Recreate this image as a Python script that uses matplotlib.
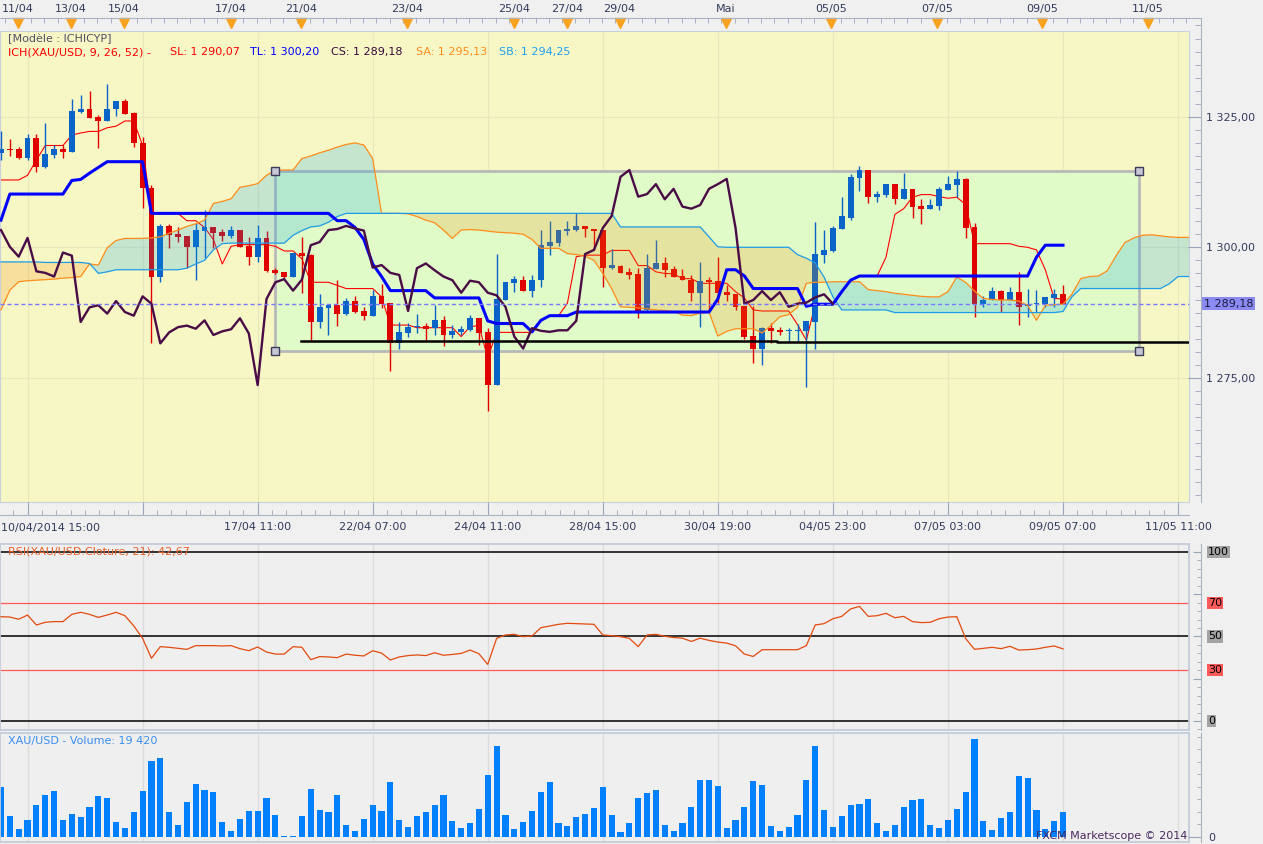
import numpy as np
import matplotlib
matplotlib.use("Agg")
import matplotlib.pyplot as plt
from matplotlib.patches import Rectangle
from matplotlib.ticker import FixedLocator, MultipleLocator, FuncFormatter, NullFormatter

# XAU/USD H4 candles (bar 0 = first visible candle)
opens = [1318.1, 1318.9, 1318.8, 1317.2, 1320.9, 1315.3, 1317.7, 1318.8, 1318.3, 1326.0,
         1326.5, 1324.9, 1324.1, 1326.5, 1328.0, 1325.7, 1320.0, 1311.3, 1294.4, 1304.1,
         1302.5, 1302.2, 1300.1, 1303.2, 1303.9, 1302.9, 1302.2, 1303.3, 1300.3, 1298.2,
         1301.8, 1295.7, 1295.2, 1294.4, 1299.0, 1298.5, 1285.7, 1288.3, 1288.9, 1287.3,
         1289.7, 1287.8, 1286.9, 1290.6, 1289.4, 1281.6, 1283.6, 1284.7, 1284.9, 1284.5,
         1286.0, 1283.2, 1283.8, 1284.1, 1286.4, 1283.7, 1273.6, 1289.9, 1293.1, 1293.8,
         1291.7, 1293.7, 1300.3, 1300.9, 1303.2, 1303.4, 1304.1, 1303.5, 1303.3, 1296.1,
         1296.5, 1295.2, 1294.9, 1288.0, 1295.8, 1296.9, 1295.8, 1294.5, 1293.8, 1291.3,
         1293.7, 1293.5, 1291.4, 1291.0, 1288.7, 1283.0, 1280.6, 1284.5, 1284.1, 1284.0,
         1283.9, 1284.0, 1285.7, 1298.5, 1299.3, 1303.5, 1305.7, 1313.3, 1314.8, 1309.7,
         1310.0, 1312.1, 1309.2, 1311.2, 1307.9, 1307.3, 1307.9, 1311.0, 1311.9, 1313.1,
         1303.9, 1289.2, 1289.9, 1291.6, 1289.9, 1291.4, 1288.7, 1289.2, 1289.2, 1290.2,
         1291.0]
highs = [1322.2, 1320.7, 1319.3, 1321.7, 1321.7, 1323.9, 1319.6, 1319.6, 1328.5, 1329.2,
         1329.9, 1325.3, 1331.3, 1328.0, 1328.4, 1325.9, 1321.2, 1311.9, 1304.5, 1304.5,
         1303.9, 1302.2, 1304.6, 1307.1, 1303.9, 1303.6, 1304.1, 1303.3, 1302.0, 1304.3,
         1303.1, 1296.1, 1295.2, 1299.0, 1302.0, 1298.8, 1291.0, 1288.9, 1293.8, 1290.2,
         1290.6, 1288.6, 1291.9, 1292.9, 1289.4, 1285.6, 1285.5, 1287.2, 1285.5, 1288.9,
         1286.8, 1285.2, 1284.9, 1287.1, 1286.4, 1284.5, 1298.7, 1293.3, 1294.5, 1294.5,
         1294.7, 1303.3, 1305.0, 1303.3, 1305.0, 1306.5, 1304.1, 1303.5, 1303.3, 1299.6,
         1296.7, 1296.0, 1296.0, 1298.7, 1301.4, 1298.1, 1296.4, 1295.9, 1294.7, 1297.2,
         1294.4, 1298.1, 1292.8, 1291.0, 1288.7, 1288.7, 1284.8, 1285.5, 1284.8, 1284.5,
         1285.3, 1285.9, 1304.8, 1303.3, 1304.1, 1309.7, 1314.0, 1315.6, 1314.9, 1310.8,
         1312.2, 1312.1, 1314.3, 1311.2, 1309.2, 1309.2, 1311.5, 1313.7, 1314.7, 1313.2,
         1304.6, 1290.6, 1292.4, 1291.9, 1292.4, 1295.2, 1292.1, 1291.9, 1290.4, 1292.1,
         1292.8]
lows = [1316.7, 1317.5, 1316.9, 1316.7, 1314.5, 1315.1, 1317.2, 1317.2, 1318.3, 1325.7,
        1324.8, 1319.1, 1324.1, 1325.2, 1325.6, 1319.3, 1307.6, 1281.7, 1293.4, 1299.9,
        1301.1, 1296.0, 1293.8, 1297.9, 1299.8, 1301.2, 1301.8, 1300.0, 1296.6, 1297.2,
        1295.2, 1294.9, 1294.2, 1294.4, 1291.2, 1282.2, 1284.5, 1283.2, 1284.9, 1287.1,
        1287.5, 1286.0, 1286.9, 1288.3, 1276.3, 1280.6, 1282.9, 1283.6, 1282.2, 1283.2,
        1281.1, 1282.7, 1283.2, 1284.0, 1281.3, 1268.7, 1273.6, 1289.9, 1291.4, 1291.7,
        1290.5, 1292.3, 1298.5, 1300.2, 1302.3, 1303.2, 1301.9, 1299.5, 1292.3, 1295.8,
        1295.1, 1293.9, 1286.5, 1287.8, 1295.8, 1294.4, 1294.4, 1293.7, 1289.8, 1284.8,
        1287.6, 1289.4, 1289.8, 1288.0, 1282.5, 1277.9, 1277.5, 1281.6, 1283.2, 1281.9,
        1281.9, 1273.3, 1280.6, 1296.9, 1299.1, 1303.5, 1305.3, 1310.8, 1308.5, 1308.7,
        1309.6, 1308.3, 1309.2, 1305.7, 1304.5, 1307.3, 1307.1, 1311.0, 1309.6, 1301.7,
        1286.7, 1288.6, 1289.9, 1287.6, 1289.9, 1285.2, 1286.6, 1287.6, 1288.6, 1288.6,
        1289.2]
closes = [1318.9, 1318.7, 1317.2, 1320.9, 1315.3, 1317.9, 1318.8, 1318.3, 1326.1, 1326.5,
          1324.8, 1324.1, 1326.5, 1328.0, 1325.6, 1319.9, 1311.3, 1294.4, 1304.1, 1302.3,
          1302.0, 1300.1, 1303.3, 1303.9, 1302.8, 1302.2, 1303.3, 1300.1, 1298.2, 1301.8,
          1295.4, 1295.1, 1294.4, 1299.0, 1298.4, 1285.7, 1288.5, 1288.9, 1287.3, 1289.7,
          1287.6, 1286.9, 1290.6, 1289.2, 1281.6, 1283.7, 1284.7, 1285.0, 1284.4, 1286.0,
          1283.2, 1283.9, 1284.3, 1286.4, 1283.5, 1273.6, 1290.1, 1293.3, 1293.9, 1291.7,
          1293.8, 1300.4, 1301.0, 1303.3, 1303.5, 1304.1, 1303.6, 1303.2, 1296.1, 1296.6,
          1295.1, 1294.7, 1287.8, 1296.0, 1296.9, 1295.6, 1294.4, 1293.7, 1291.3, 1293.6,
          1293.3, 1291.3, 1290.8, 1288.6, 1282.9, 1280.6, 1284.5, 1284.0, 1283.8, 1284.1,
          1284.1, 1285.9, 1298.7, 1299.5, 1303.7, 1306.0, 1313.5, 1314.8, 1309.7, 1310.2,
          1312.1, 1309.2, 1311.2, 1307.8, 1307.4, 1308.1, 1311.2, 1312.1, 1313.1, 1303.7,
          1289.2, 1289.9, 1291.6, 1289.9, 1291.4, 1288.6, 1289.2, 1289.4, 1290.4, 1291.0,
          1289.18]
volumes = [39040, 16240, 6030, 13100, 24890, 32750, 35890, 13100, 17820, 15460,
           23320, 31960, 30390, 11530, 6810, 19390, 35890, 59470, 61830, 19390,
           9170, 27250, 41400, 36680, 35110, 11530, 4450, 13890, 20170, 20170,
           30390, 17030, 520, 520, 16240, 37470, 20960, 19390, 32750, 9170,
           4450, 13890, 24890, 20170, 42970, 13100, 7600, 16240, 19390, 24890,
           32750, 12310, 6810, 10740, 21750, 48470, 71260, 17030, 6030, 11530,
           20170, 35110, 42970, 10740, 8380, 15460, 17820, 22530, 39040, 17030,
           3930, 10740, 30390, 34320, 36680, 9170, 4450, 10740, 23320, 44540,
           44540, 39820, 6810, 13100, 23320, 43750, 40610, 8380, 4450, 7600,
           17030, 44540, 71260, 20960, 7600, 16240, 24890, 25680, 29610, 10740,
           4450, 9170, 23320, 28820, 29610, 9170, 6810, 13100, 21750, 35110,
           76770, 12310, 5240, 14670, 19390, 47680, 46110, 20960, 6030, 12310,
           19420]
rsi = [61.7, 61.5, 60.2, 62.7, 56.8, 58.4, 58.8, 58.8, 63.1, 64.3,
       63.1, 61.3, 62.7, 64.3, 62.3, 56.3, 48.9, 37.1, 44.0, 43.6,
       43.0, 42.4, 44.6, 44.6, 44.6, 44.4, 44.6, 42.8, 41.6, 43.8,
       40.8, 39.6, 39.6, 44.0, 43.6, 36.3, 38.1, 37.9, 37.5, 39.6,
       38.9, 38.5, 41.6, 40.2, 36.1, 37.9, 38.7, 39.1, 38.7, 40.4,
       38.9, 39.4, 40.0, 42.0, 39.8, 33.5, 48.9, 50.9, 51.3, 49.9,
       50.3, 55.2, 56.2, 57.2, 57.8, 57.6, 57.4, 57.2, 50.9, 50.5,
       49.9, 48.9, 44.0, 50.9, 51.3, 50.1, 49.4, 49.0, 47.1, 49.0,
       47.7, 46.7, 46.1, 44.5, 39.6, 38.2, 42.2, 42.2, 42.2, 42.2,
       42.2, 44.6, 56.8, 57.6, 60.5, 61.9, 66.3, 67.8, 61.9, 62.3,
       63.7, 61.1, 61.9, 58.8, 58.2, 58.4, 60.5, 61.5, 61.7, 48.8,
       42.4, 43.0, 43.6, 42.8, 44.2, 42.0, 42.2, 42.6, 43.6, 44.4,
       42.67]

# ichimoku lines as drawn (tenkan / kijun per candle)
tenkan = [1312.9, 1312.9, 1312.9, 1313.8, 1316.7, 1319.5, 1319.5, 1319.5, 1321.5, 1321.9,
          1322.2, 1322.2, 1322.9, 1323.2, 1324.2, 1324.2, 1319.5, 1306.5, 1306.5, 1306.5,
          1306.5, 1305.1, 1305.1, 1303.8, 1301.5, 1296.8, 1300.2, 1300.5, 1300.5, 1300.5,
          1300.5, 1300.2, 1299.3, 1299.3, 1297.8, 1293.3, 1293.3, 1293.3, 1292.7, 1292.1,
          1292.1, 1292.1, 1292.1, 1290.5, 1285.1, 1285.1, 1285.1, 1284.6, 1284.6, 1284.6,
          1284.6, 1284.6, 1282.9, 1284.8, 1285.0, 1278.8, 1283.7, 1283.7, 1283.7, 1283.7,
          1283.7, 1286.0, 1286.9, 1286.9, 1289.3, 1298.2, 1298.5, 1298.5, 1298.5, 1299.4,
          1299.4, 1299.4, 1296.5, 1296.5, 1295.3, 1295.0, 1294.9, 1294.0, 1294.0, 1293.1,
          1293.1, 1293.1, 1293.1, 1291.5, 1290.3, 1288.0, 1287.8, 1287.8, 1287.8, 1287.8,
          1285.2, 1282.2, 1289.1, 1289.1, 1289.1, 1291.5, 1293.7, 1294.5, 1294.5, 1294.5,
          1298.1, 1306.3, 1307.4, 1309.6, 1310.1, 1310.1, 1309.7, 1309.4, 1309.6, 1308.2,
          1300.7, 1300.7, 1300.7, 1300.7, 1300.7, 1300.2, 1300.0, 1299.5, 1295.7, 1290.2,
          1290.1]
kijun = [1305.2, 1310.2, 1310.2, 1310.2, 1310.2, 1310.2, 1310.2, 1310.2, 1312.8, 1313.0,
         1314.2, 1315.3, 1316.4, 1316.4, 1316.4, 1316.4, 1316.4, 1306.5, 1306.5, 1306.5,
         1306.5, 1306.5, 1306.5, 1306.5, 1306.5, 1306.5, 1306.5, 1306.5, 1306.5, 1306.5,
         1306.5, 1306.5, 1306.5, 1306.5, 1306.5, 1306.5, 1306.5, 1306.5, 1305.1, 1305.1,
         1303.8, 1301.5, 1296.8, 1294.4, 1291.7, 1291.7, 1291.7, 1291.7, 1291.7, 1290.3,
         1290.3, 1290.3, 1290.3, 1290.3, 1290.3, 1285.9, 1285.4, 1285.4, 1285.4, 1285.4,
         1283.8, 1286.0, 1286.9, 1286.9, 1286.9, 1287.6, 1287.6, 1287.6, 1287.6, 1287.6,
         1287.6, 1287.6, 1287.6, 1287.6, 1287.6, 1287.6, 1287.6, 1287.6, 1287.6, 1287.6,
         1287.6, 1290.1, 1295.7, 1295.7, 1294.5, 1292.1, 1292.1, 1292.1, 1292.1, 1292.1,
         1292.1, 1288.7, 1289.1, 1289.1, 1289.1, 1291.5, 1293.7, 1294.5, 1294.5, 1294.5,
         1294.5, 1294.5, 1294.5, 1294.5, 1294.5, 1294.5, 1294.5, 1294.5, 1294.5, 1294.5,
         1294.5, 1294.5, 1294.5, 1294.5, 1294.5, 1294.5, 1294.5, 1298.1, 1300.4, 1300.4,
         1300.4]
# senkou spans run 26 bars past the last candle
senkou_a = [1288.0, 1291.8, 1293.4, 1293.6, 1293.7, 1293.8, 1293.9, 1294.1, 1294.2, 1294.4,
            1296.8, 1296.6, 1299.9, 1301.3, 1301.7, 1301.7, 1301.7, 1301.8, 1302.0, 1302.7,
            1303.3, 1304.0, 1304.5, 1305.2, 1308.4, 1308.8, 1309.3, 1311.5, 1311.8, 1312.2,
            1313.8, 1314.7, 1314.8, 1314.8, 1317.0, 1317.5, 1318.1, 1318.6, 1319.2, 1319.7,
            1320.0, 1319.6, 1317.0, 1306.5, 1306.5, 1306.5, 1306.4, 1305.9, 1305.2, 1304.7,
            1303.3, 1301.7, 1303.3, 1303.4, 1303.3, 1303.1, 1302.9, 1302.8, 1302.7, 1302.5,
            1301.5, 1299.8, 1299.8, 1299.8, 1298.8, 1298.6, 1298.3, 1297.5, 1295.0, 1292.1,
            1288.6, 1288.5, 1288.4, 1288.2, 1288.0, 1287.9, 1287.7, 1287.0, 1286.9, 1287.4,
            1287.6, 1283.0, 1283.9, 1284.4, 1284.4, 1284.4, 1283.6, 1285.0, 1286.7, 1287.1,
            1288.5, 1293.1, 1293.3, 1293.3, 1293.4, 1293.4, 1293.4, 1293.4, 1291.9, 1291.7,
            1291.5, 1291.2, 1291.0, 1290.8, 1290.6, 1290.5, 1290.5, 1291.5, 1294.3, 1293.3,
            1291.6, 1290.2, 1290.0, 1289.9, 1289.9, 1289.7, 1288.9, 1286.0, 1288.9, 1289.0,
            1289.1, 1291.0, 1294.0, 1294.4, 1294.5, 1295.5, 1298.4, 1300.9, 1301.8, 1302.3,
            1302.4, 1302.2, 1302.0, 1301.9, 1301.9, 1301.9]
senkou_b = [1297.2, 1297.2, 1297.2, 1297.2, 1297.2, 1297.1, 1297.1, 1297.1, 1297.1, 1297.1,
            1296.9, 1295.0, 1295.3, 1295.7, 1295.7, 1295.7, 1295.7, 1295.7, 1295.7, 1295.7,
            1295.7, 1296.0, 1296.8, 1297.5, 1299.5, 1300.7, 1300.8, 1300.8, 1300.8, 1300.8,
            1300.8, 1300.8, 1300.8, 1302.3, 1303.2, 1303.9, 1304.1, 1304.8, 1305.9, 1306.5,
            1306.5, 1306.5, 1306.5, 1306.5, 1306.5, 1306.5, 1306.5, 1306.5, 1306.5, 1306.5,
            1306.5, 1306.5, 1306.5, 1306.5, 1306.5, 1306.5, 1306.5, 1306.5, 1306.5, 1306.5,
            1306.5, 1306.5, 1306.5, 1306.5, 1306.5, 1306.5, 1306.5, 1306.5, 1306.5, 1306.5,
            1303.9, 1303.9, 1303.9, 1303.9, 1303.9, 1303.9, 1303.9, 1303.9, 1303.9, 1303.9,
            1302.0, 1300.1, 1300.0, 1300.0, 1300.0, 1300.0, 1300.0, 1300.0, 1300.0, 1300.0,
            1298.6, 1297.9, 1297.0, 1294.3, 1290.5, 1288.0, 1288.0, 1288.0, 1288.0, 1288.0,
            1288.0, 1287.5, 1287.5, 1287.5, 1287.5, 1287.5, 1287.5, 1287.5, 1287.5, 1287.5,
            1287.5, 1287.5, 1287.5, 1287.5, 1287.5, 1287.5, 1287.5, 1287.5, 1287.5, 1287.5,
            1287.7, 1290.5, 1292.1, 1292.1, 1292.1, 1292.1, 1292.1, 1292.1, 1292.1, 1292.1,
            1292.1, 1292.1, 1293.0, 1294.4, 1294.4, 1294.4]

# user drawings on the chart (rectangle + support line)
box_bars = [30.96, 128.6]
box_prices = [1280.2, 1314.7]
support_bars = [33.9, 87.7, 87.7, 134.3]
support_prices = [1282.05, 1282.05, 1281.8, 1281.8]

top_tick_bars = [1.9, 7.9, 13.9, 26.0, 33.9, 45.9, 58.0, 64.0, 69.9, 81.9, 93.8, 105.8, 117.6, 129.6]
top_tick_labels = ["11/04", "13/04", "15/04", "17/04", "21/04", "23/04", "25/04", "27/04",
                   "29/04", "Mai", "05/05", "07/05", "09/05", "11/05"]
time_tick_bars = [3, 16, 29, 42, 55, 68, 81, 94, 107, 120, 133]
time_tick_labels = ["", "", "17/04 11:00", "22/04 07:00", "24/04 11:00", "28/04 15:00",
                    "30/04 19:00", "04/05 23:00", "07/05 03:00", "09/05 07:00", "11/05 11:00"]
rsi_levels = [100, 70, 50, 30, 0]

W, H = 1263, 844
BAR_PX = 8.85
PX_PER_USD = 5.22
Y_1300 = 247.3
AXIS_TXT = "#333b5c"
TICK_COL = "#9aa6ba"


def fx(px):
    return px / W


def fy(py):
    return 1 - py / H


def price_at(py):
    return 1300 - (py - Y_1300) / PX_PER_USD


def bar_at(px):
    return (px - 1) / BAR_PX


def fmt_price(v, pos=None):
    return f"{v:,.2f}".replace(",", " ").replace(".", ",")


plt.rcParams["font.family"] = ["DejaVu Sans"]
plt.rcParams["font.size"] = 8

fig = plt.figure(figsize=(W / 100, H / 100), dpi=100, facecolor="#f0f0f0")
xlim = (bar_at(0), bar_at(1189))
bars = np.arange(len(closes))
o = np.array(opens)
c = np.array(closes)
up = c >= o
cols = np.where(up, "#0a64c8", "#e00000")

# ---------------- price panel ----------------
ax = fig.add_axes([0, fy(502), fx(1189), (502 - 31) / H])
ax.set_facecolor("#f7f7c6")
ax.set_xlim(*xlim)
ax.set_ylim(price_at(502), price_at(31))
ax.set_xticks([])
ax.set_yticks([])
for sp in ax.spines.values():
    sp.set_color("#c8d0dc")
for b in time_tick_bars:
    ax.axvline(b, color="#e9e8bd", lw=1, zorder=0)
for p in (1275, 1300, 1325):
    ax.axhline(p, color="#e9e8bd", lw=1, zorder=0)

ax.add_patch(Rectangle((box_bars[0], box_prices[0]), box_bars[1] - box_bars[0],
                       box_prices[1] - box_prices[0], fc="#e0fac8", ec="#b9b9b9",
                       lw=2, zorder=1))

ax.plot(bars, tenkan, color="#ff0000", lw=0.8, zorder=2.5)
ax.vlines(bars, lows, highs, colors=cols, lw=1, zorder=3)
ax.bar(bars, np.maximum(np.abs(c - o), 0.15), bottom=np.minimum(o, c), width=0.66,
       color=cols, lw=0, zorder=3)

cb = np.arange(len(senkou_a))
sa = np.array(senkou_a)
sb = np.array(senkou_b)
ax.fill_between(cb, sa, sb, where=sa >= sb, interpolate=True, color="#00a0f0",
                alpha=0.2, lw=0, zorder=4)
ax.fill_between(cb, sa, sb, where=sa < sb, interpolate=True, color="#f98700",
                alpha=0.2, lw=0, zorder=4)
ax.plot(cb, sa, color="#ff8c1a", lw=0.9, zorder=5)
ax.plot(cb, sb, color="#1e9be6", lw=0.9, zorder=5)

ax.plot(bars, kijun, color="#0000ff", lw=2.2, zorder=6)
ax.plot(bars[:-26], closes[26:], color="#4a0c46", lw=1.7, zorder=6.5)
ax.plot(support_bars, support_prices, color="black", lw=1.8, zorder=7)
ax.axhline(closes[-1], color="#7a7aff", lw=1, ls=(0, (3, 2)), zorder=7)
ax.plot([box_bars[0], box_bars[1], box_bars[0], box_bars[1]],
        [box_prices[1], box_prices[1], box_prices[0], box_prices[0]], "s", ms=6,
        mfc="#c6c6d6", mec="#3c3c5a", mew=1, zorder=9, clip_on=False)

fig.text(fx(8), fy(39), "[Modèle : ICHICYP]", color="#4f4f66", va="center")
legend_parts = [(8, "ICH(XAU/USD, 9, 26, 52) -", "#ff0000"),
                (170, "SL: 1 290,07", "#ff0000"),
                (250, "TL: 1 300,20", "#0000ff"),
                (331, "CS: 1 289,18", "#3a0a3a"),
                (416, "SA: 1 295,13", "#ff8c1a"),
                (499, "SB: 1 294,25", "#1ea0f0")]
for px, txt, col in legend_parts:
    fig.text(fx(px), fy(52.5), txt, color=col, va="center")

# price scale on the right
axp = fig.add_axes([0, fy(502), fx(1201), (502 - 18) / H])
axp.patch.set_visible(False)
axp.set_xlim(0, 1)
axp.set_ylim(price_at(502), price_at(18))
axp.set_xticks([])
for k in ("left", "top", "bottom"):
    axp.spines[k].set_visible(False)
axp.spines["right"].set_color("#aab3c4")
axp.yaxis.tick_right()
axp.yaxis.set_major_locator(FixedLocator([1275, 1300, 1325]))
axp.yaxis.set_minor_locator(MultipleLocator(2.5))
axp.yaxis.set_major_formatter(FuncFormatter(fmt_price))
axp.tick_params(axis="y", which="major", direction="in", length=9.4, color=TICK_COL,
                labelsize=8, labelcolor=AXIS_TXT, pad=3.6)
axp.tick_params(axis="y", which="minor", direction="in", length=4.3, color=TICK_COL)
axp.annotate(fmt_price(closes[-1]), xy=(1.0025, closes[-1]),
             xycoords=("axes fraction", "data"), ha="left", va="center", fontsize=8,
             color="#1c1c44", bbox=dict(boxstyle="square,pad=0.15", fc="#8a8af0", ec="none"))

# top date strip
axt = fig.add_axes([0, fy(31), fx(1201), 13 / H])
axt.patch.set_visible(False)
axt.set_xlim(bar_at(0), bar_at(1201))
axt.set_ylim(0, 1)
axt.set_yticks([])
for k in ("left", "right", "bottom"):
    axt.spines[k].set_visible(False)
axt.spines["top"].set_color("#aab3c4")
axt.xaxis.tick_top()
axt.set_xticks(top_tick_bars, top_tick_labels)
axt.xaxis.set_minor_locator(FixedLocator(np.arange(0.4, 135, 1.5)))
axt.tick_params(axis="x", which="major", direction="in", length=0, pad=3,
                labelsize=8, labelcolor=AXIS_TXT)
axt.tick_params(axis="x", which="minor", direction="in", length=3.6, color=TICK_COL)
axt.plot(top_tick_bars, [0.62] * len(top_tick_bars), "v", ms=7, color="#f8a31f",
         clip_on=False)

# bottom time axis
axb = fig.add_axes([0, fy(515), fx(1189), 13 / H])
axb.patch.set_visible(False)
axb.set_xlim(*xlim)
axb.set_yticks([])
for k in ("left", "right", "top"):
    axb.spines[k].set_visible(False)
axb.spines["bottom"].set_color("#aab3c4")
axb.set_xticks(time_tick_bars, time_tick_labels)
axb.xaxis.set_minor_locator(FixedLocator(np.arange(3 - 1.625, 135, 1.625)))
axb.tick_params(axis="x", which="major", direction="in", length=9.4, color=TICK_COL,
                labelsize=8, labelcolor=AXIS_TXT, pad=5)
axb.tick_params(axis="x", which="minor", direction="in", length=3.6, color=TICK_COL)
fig.text(fx(1), fy(528), "10/04/2014 15:00", color=AXIS_TXT, va="center", ha="left")

# ---------------- RSI panel ----------------
axr = fig.add_axes([0, fy(730), fx(1189), (730 - 544) / H])
axr.set_facecolor("#efefef")
axr.set_xlim(*xlim)
axr.set_ylim(-5.3, 104.7)
axr.set_xticks([])
axr.set_yticks([])
for sp in axr.spines.values():
    sp.set_color("#c4ccd8")
    sp.set_linewidth(1.3)
for b in time_tick_bars:
    axr.axvline(b, color="#dcdcdc", lw=1, zorder=0)
for lvl in rsi_levels:
    axr.axhline(lvl, color="black" if lvl in (0, 50, 100) else "#ff5a5a",
                lw=1.1 if lvl in (0, 50, 100) else 0.9, zorder=1)
axr.plot(bars, rsi, color="#e34a0e", lw=0.9, zorder=3)
fig.text(fx(8), fy(551.5), "RSI(XAU/USD.Cloture, 21): 42,67", color="#e8602a", va="center")

axrs = fig.add_axes([0, fy(730), fx(1201), (730 - 544) / H])
axrs.patch.set_visible(False)
axrs.set_xlim(0, 1)
axrs.set_ylim(-5.3, 104.7)
axrs.set_xticks([])
for k in ("left", "top", "bottom"):
    axrs.spines[k].set_visible(False)
axrs.spines["right"].set_color("#aab3c4")
axrs.yaxis.tick_right()
axrs.yaxis.set_major_locator(MultipleLocator(25))
axrs.yaxis.set_minor_locator(MultipleLocator(5))
axrs.yaxis.set_major_formatter(NullFormatter())
axrs.tick_params(axis="y", which="major", direction="in", length=6, color=TICK_COL)
axrs.tick_params(axis="y", which="minor", direction="in", length=3, color=TICK_COL)
for lvl in rsi_levels:
    bg = "#a3a3a3" if lvl in (0, 50, 100) else "#ff5a5a"
    axrs.annotate(str(lvl), xy=(1.0058, lvl), xycoords=("axes fraction", "data"),
                  ha="left", va="center", fontsize=8, color="black",
                  bbox=dict(boxstyle="square,pad=0.1", fc=bg, ec="none"))

# ---------------- volume panel ----------------
axv = fig.add_axes([0, fy(842), fx(1189), (842 - 733) / H])
axv.set_facecolor("#efefef")
axv.set_xlim(*xlim)
axv.set_ylim(-3930, 81740)
axv.set_xticks([])
axv.set_yticks([])
for sp in axv.spines.values():
    sp.set_color("#c4ccd8")
    sp.set_linewidth(1.3)
for b in time_tick_bars:
    axv.axvline(b, color="#dcdcdc", lw=1, zorder=0)
axv.bar(bars, volumes, width=0.7, color="#0080ff", lw=0, zorder=2)
fig.text(fx(8), fy(741), "XAU/USD - Volume: 19 420", color="#3a8ef0", va="center")
fig.text(fx(1187), fy(836), "FXCM Marketscope © 2014", color="#4a2a60", va="center",
         ha="right")

axvs = fig.add_axes([0, fy(842), fx(1201), (842 - 733) / H])
axvs.patch.set_visible(False)
axvs.set_xlim(0, 1)
axvs.set_ylim(-3930, 81740)
axvs.set_xticks([])
for k in ("left", "top", "bottom"):
    axvs.spines[k].set_visible(False)
axvs.spines["right"].set_color("#aab3c4")
axvs.yaxis.tick_right()
axvs.yaxis.set_major_locator(FixedLocator([0]))
axvs.yaxis.set_minor_locator(MultipleLocator(9825))
axvs.tick_params(axis="y", which="major", direction="in", length=9.4, color=TICK_COL,
                 labelsize=8, labelcolor=AXIS_TXT, pad=5)
axvs.tick_params(axis="y", which="minor", direction="in", length=3, color=TICK_COL)

fig.savefig("out.png", dpi=100, facecolor=fig.get_facecolor())
